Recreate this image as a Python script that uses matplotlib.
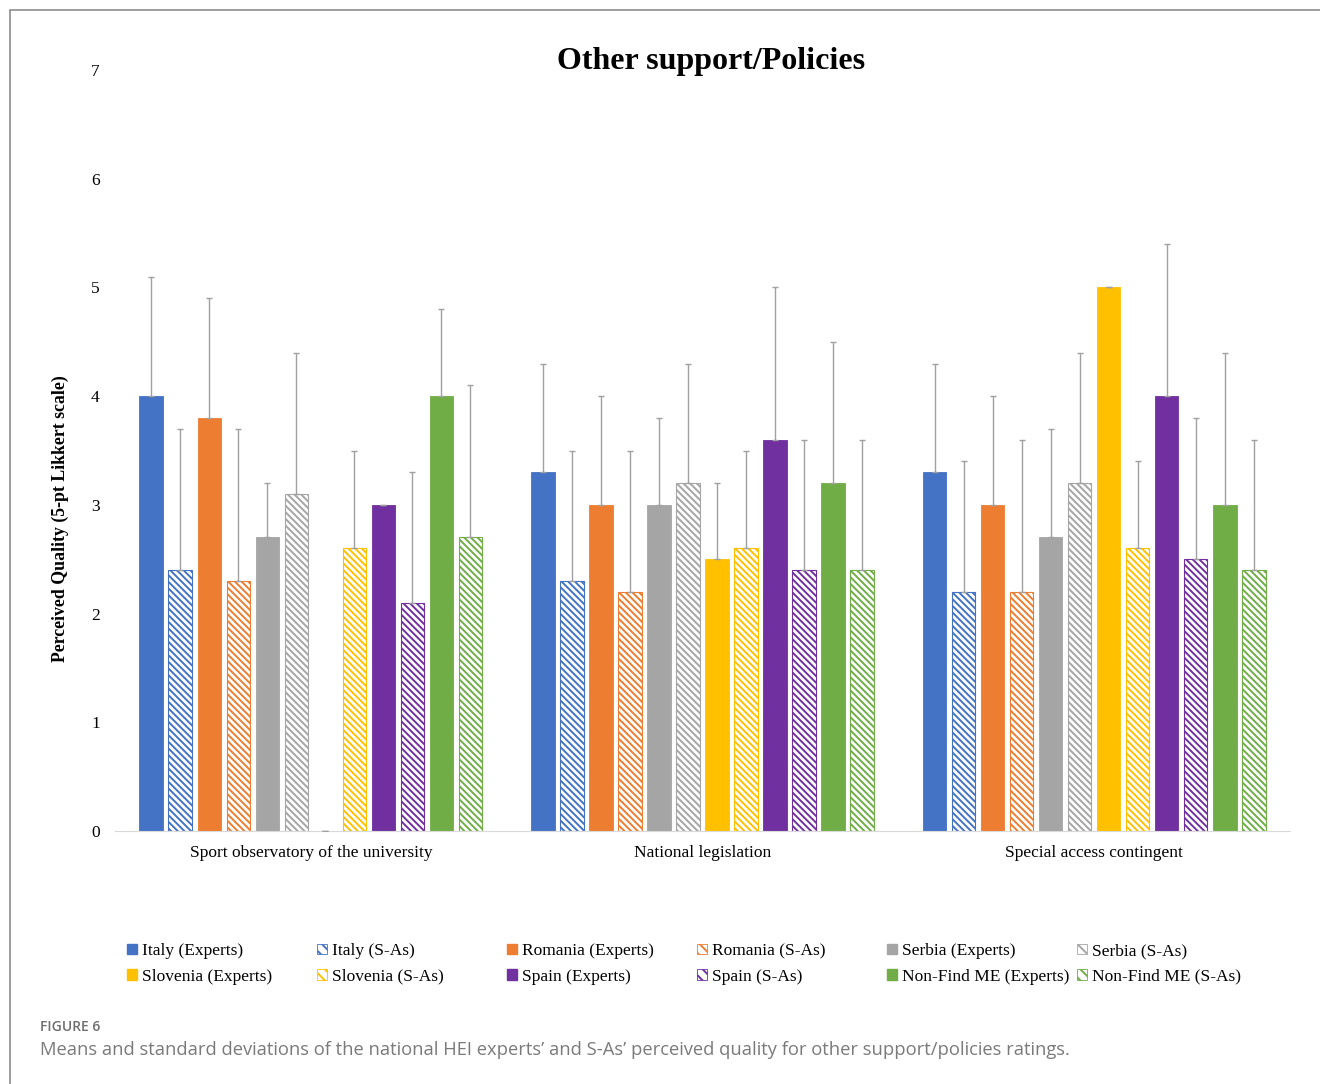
import numpy as np
import matplotlib
matplotlib.use('Agg')
import matplotlib.pyplot as plt
from matplotlib.patches import Patch, Rectangle

plt.rcParams['hatch.linewidth'] = 1.4

categories = ['Sport observatory of the university', 'National legislation',
              'Special access contingent']

series = ['Italy (Experts)', 'Italy (S-As)', 'Romania (Experts)', 'Romania (S-As)',
          'Serbia (Experts)', 'Serbia (S-As)', 'Slovenia (Experts)', 'Slovenia (S-As)',
          'Spain (Experts)', 'Spain (S-As)', 'Non-Find ME (Experts)', 'Non-Find ME (S-As)']

# means per series, one value per category
means = [
    [4.0, 3.3, 3.3],
    [2.4, 2.3, 2.2],
    [3.8, 3.0, 3.0],
    [2.3, 2.2, 2.2],
    [2.7, 3.0, 2.7],
    [3.1, 3.2, 3.2],
    [0.0, 2.5, 5.0],
    [2.6, 2.6, 2.6],
    [3.0, 3.6, 4.0],
    [2.1, 2.4, 2.5],
    [4.0, 3.2, 3.0],
    [2.7, 2.4, 2.4],
]

# standard deviations (drawn upward only)
sds = [
    [1.1, 1.0, 1.0],
    [1.3, 1.2, 1.2],
    [1.1, 1.0, 1.0],
    [1.4, 1.3, 1.4],
    [0.5, 0.8, 1.0],
    [1.3, 1.1, 1.2],
    [0.0, 0.7, 0.0],
    [0.9, 0.9, 0.8],
    [0.0, 1.4, 1.4],
    [1.2, 1.2, 1.3],
    [0.8, 1.3, 1.4],
    [1.4, 1.2, 1.2],
]

colors = ['#4472C4', '#4472C4', '#ED7D31', '#ED7D31', '#A5A5A5', '#A5A5A5',
          '#FFC000', '#FFC000', '#7030A0', '#7030A0', '#70AD47', '#70AD47']
hatched = [False, True] * 6
hatch = '\\' * 5

fig = plt.figure(figsize=(13.2, 10.84), dpi=100)
ax = fig.add_axes([115 / 1320, 1 - 831 / 1084, 1175 / 1320, 761 / 1084])

x = np.arange(len(categories))
step = 0.0741
width = 0.06
for i, name in enumerate(series):
    pos = x + (i - 5.5) * step
    m = np.array(means[i])
    s = np.array(sds[i])
    if hatched[i]:
        ax.bar(pos, m, width, facecolor='white', edgecolor=colors[i],
               hatch=hatch, linewidth=0.8, label=name, zorder=2)
    else:
        ax.bar(pos, m, width, color=colors[i], edgecolor=colors[i],
               linewidth=0.6, label=name, zorder=2)
    ax.errorbar(pos, m, yerr=[np.zeros_like(s), s], fmt='none', ecolor='#A0A0A0',
                elinewidth=1.0, capsize=2, capthick=1.0, zorder=3)

ax.set_xlim(-0.5, 2.5)
ax.set_ylim(0, 7)
ax.set_yticks(range(8))
ax.set_xticks(x)
ax.set_xticklabels(categories)
ax.tick_params(length=0, labelsize=12.5, pad=10)
ax.tick_params(axis='y', pad=11)
for lab in ax.get_xticklabels() + ax.get_yticklabels():
    lab.set_fontfamily('Liberation Serif')
for side in ['top', 'right', 'left']:
    ax.spines[side].set_visible(False)
ax.spines['bottom'].set_color('#D9D9D9')
ax.set_ylabel('Perceived Quality (5-pt Likkert scale)', fontfamily='Liberation Serif',
              fontweight='bold', fontsize=12.8)
ax.yaxis.set_label_coords(-0.0395, 0.411)

fig.text(711 / 1320, 1 - 62 / 1084, 'Other support/Policies', ha='center', va='center',
         fontfamily='Liberation Serif', fontweight='bold', fontsize=23)

# legend laid out as six fixed-width columns, two rows
handles = []
for i, name in enumerate(series):
    if hatched[i]:
        handles.append(Patch(facecolor='white', edgecolor=colors[i], hatch='\\\\\\',
                             linewidth=0.6, label=name))
    else:
        handles.append(Patch(facecolor=colors[i], edgecolor=colors[i], label=name))
for c in range(6):
    fig.legend([handles[c], handles[c + 6]], [series[c], series[c + 6]],
               loc='upper left', bbox_to_anchor=((127 + 190 * c) / 1320, 1 - 943 / 1084),
               frameon=False, handlelength=0.55, handleheight=0.55, handletextpad=0.3,
               labelspacing=0.55, borderpad=0, borderaxespad=0,
               prop={'family': 'Liberation Serif', 'size': 12.5})

fig.text(40 / 1320, 1 - 1027 / 1084, 'FIGURE 6', ha='left', va='center',
         fontfamily='Open Sans', fontweight='semibold', fontsize=10, color='#6E6E6E')
fig.text(40 / 1320, 1 - 1050 / 1084,
         'Means and standard deviations of the national HEI experts\u2019 and S-As\u2019 '
         'perceived quality for other support/policies ratings.',
         ha='left', va='center', fontfamily='Open Sans', fontsize=13.2, color='#7A7A7A')

fig.patches.append(Rectangle((10 / 1320, -0.1), 1.2, 1 - 10 / 1084 + 0.1,
                             transform=fig.transFigure, fill=False,
                             edgecolor='#8C8C8C', linewidth=1.2))

fig.savefig('out.png', dpi=100)
